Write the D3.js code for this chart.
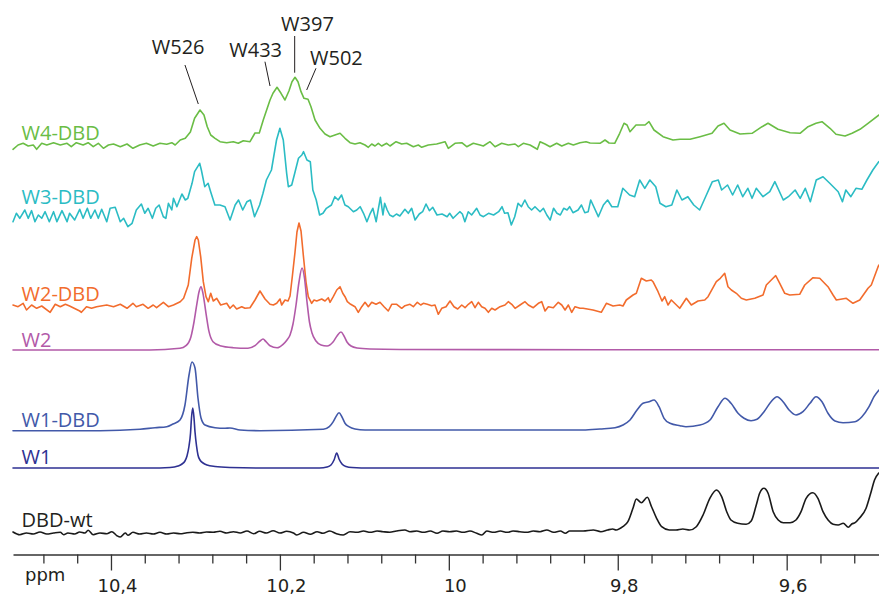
<!DOCTYPE html>
<html><head><meta charset="utf-8">
<script src="https://cdn.jsdelivr.net/npm/d3@7"></script>
<style>html,body{margin:0;padding:0;background:#fff;} svg{display:block;}</style>
</head><body><svg id="chart" width="879" height="596"></svg>
<script>
// ---------- DATA (ppm, intensity above each trace's own baseline) ----------
const ppmDomain = [10.516, 9.4907];
const majorTicks = [10.4, 10.2, 10.0, 9.8, 9.6];
const minorTicks = [10.48, 10.44, 10.36, 10.32, 10.28, 10.24, 10.16, 10.12, 10.08, 10.04,
  9.96, 9.92, 9.88, 9.84, 9.76, 9.72, 9.68, 9.64, 9.56, 9.52];
const axisTitle = "ppm";
const seriesNames = ["W4-DBD", "W3-DBD", "W2-DBD", "W2", "W1-DBD", "W1", "DBD-wt"];

const w4dbd = [[10.516,-2.3],[10.510,2],[10.504,3.7],[10.498,1],[10.492,2],[10.488,-2.3],[10.482,3.7],[10.476,2],[10.468,4.3],[10.460,2],[10.452,3.7],[10.447,0.3],[10.441,4.3],[10.433,2],[10.427,4.3],[10.421,0.3],[10.415,3.7],[10.409,-1.3],[10.403,2],[10.397,3],[10.389,0.3],[10.381,3],[10.374,-1.3],[10.366,2],[10.358,3.7],[10.350,1],[10.342,3.7],[10.334,2.7],[10.328,4.3],[10.324,2],[10.318,7],[10.312,8.7],[10.306,15],[10.301,28.7],[10.2946,37],[10.2899,32],[10.2860,20.3],[10.2819,12],[10.2768,8.7],[10.2709,5.3],[10.2630,4.3],[10.2552,5.3],[10.2493,3.7],[10.2433,6.3],[10.2354,5.3],[10.2295,14],[10.2244,14],[10.2197,27],[10.2137,42],[10.2117,47],[10.2082,53.7],[10.2034,59.7],[10.1987,53.7],[10.1940,47],[10.1892,56.3],[10.1857,65.3],[10.1821,69.7],[10.1786,65.3],[10.1750,55.3],[10.1715,48.7],[10.1667,47.7],[10.1632,40.3],[10.1584,27],[10.1525,18.7],[10.1466,13],[10.1407,10.3],[10.1348,12],[10.1288,13.7],[10.1229,8.7],[10.1170,4.3],[10.1111,3],[10.1052,4.3],[10.0992,2],[10.0953,-0.3],[10.0913,3],[10.0874,1],[10.0835,3.7],[10.0795,1],[10.0736,3.7],[10.0696,1],[10.0625,5.3],[10.0558,3],[10.0499,3.7],[10.0420,0.3],[10.0361,2],[10.0321,-0.3],[10.0243,2],[10.0144,3],[10.0045,5.3],[10.0006,-1.3],[9.9927,3.7],[9.9847,4.3],[9.9788,0.3],[9.9710,3.7],[9.9631,2],[9.9592,1],[9.9512,5.3],[9.9453,0.3],[9.9374,3.7],[9.9296,2],[9.9216,3],[9.9177,0.3],[9.9118,3.7],[9.9039,2],[9.8952,-2.3],[9.8920,5.3],[9.8861,3],[9.8802,0.3],[9.8723,3.7],[9.8663,1],[9.8585,3.7],[9.8526,2],[9.8447,4.3],[9.8376,5.3],[9.8328,4],[9.8210,3.7],[9.8151,7],[9.8103,4],[9.8036,3.7],[9.7977,13.7],[9.7926,23.7],[9.7890,22],[9.7855,15.3],[9.7784,22],[9.7677,22],[9.7630,25.3],[9.7571,17],[9.7464,10.3],[9.7346,7],[9.7263,7.7],[9.7144,7.7],[9.7026,10.3],[9.6884,13.7],[9.6813,21],[9.6742,23.7],[9.6671,17],[9.6552,13],[9.6410,13.7],[9.6292,20.3],[9.6221,23.7],[9.6103,17.7],[9.5960,14.3],[9.5842,13.7],[9.5747,20.3],[9.5653,23.7],[9.5582,25.3],[9.5487,18.7],[9.5416,12.7],[9.5309,11],[9.5226,13.7],[9.5132,17.7],[9.5037,23.7],[9.4907,32]];

const w3dbd = [[10.516,-6.7],[10.512,1.7],[10.508,-3.3],[10.502,5],[10.498,-3.3],[10.494,4.3],[10.490,-6.7],[10.486,0],[10.482,-3.3],[10.478,3.3],[10.473,-6.7],[10.468,3.3],[10.464,-6.7],[10.458,4.3],[10.452,-6.7],[10.449,1.7],[10.443,-5],[10.437,5.7],[10.433,-3.3],[10.428,6.7],[10.424,-3.3],[10.419,5],[10.415,-3.3],[10.411,5.7],[10.405,-6.7],[10.401,6.7],[10.395,7.7],[10.389,-6.7],[10.385,-3.3],[10.380,-11.7],[10.375,-8.3],[10.370,5],[10.364,11],[10.360,1.7],[10.356,6.7],[10.351,-3.3],[10.347,6.7],[10.343,10],[10.338,-1.7],[10.335,-3.3],[10.332,11.7],[10.328,5],[10.326,16.7],[10.322,8.3],[10.316,21],[10.312,15],[10.309,16.7],[10.304,31.7],[10.301,43.3],[10.295,51.7],[10.293,45],[10.289,28.3],[10.285,31.7],[10.282,23.3],[10.277,10],[10.271,10],[10.265,8.3],[10.259,-5],[10.253,10],[10.249,15],[10.244,5],[10.239,13.3],[10.235,15],[10.230,-1.7],[10.224,10],[10.220,21.7],[10.216,35],[10.210,45],[10.204,75],[10.200,86.7],[10.196,75],[10.192,41.7],[10.190,28.3],[10.186,30],[10.182,43.3],[10.178,56.7],[10.174,60],[10.172,63.3],[10.168,55],[10.164,53.3],[10.161,25],[10.157,15],[10.153,0],[10.149,1.7],[10.145,6.7],[10.139,10],[10.135,18.3],[10.131,15],[10.127,20],[10.123,10],[10.119,8.3],[10.113,3.3],[10.109,5],[10.105,8.3],[10.101,1.7],[10.097,-6.7],[10.093,1.7],[10.090,6.7],[10.086,-6.7],[10.084,3.3],[10.081,17.7],[10.078,0],[10.076,11.7],[10.073,5],[10.070,0],[10.066,-1.7],[10.062,1],[10.058,-1],[10.052,5.7],[10.048,1.7],[10.044,6.7],[10.040,-5],[10.035,1],[10.031,3.3],[10.027,11],[10.023,4.3],[10.019,7.7],[10.014,0],[10.008,1],[10.002,-1.7],[9.999,1.7],[9.995,-3.3],[9.991,0],[9.987,3.3],[9.984,1],[9.981,-6.7],[9.977,3.3],[9.973,0],[9.967,6.7],[9.963,0],[9.959,-1.7],[9.953,1.7],[9.947,0],[9.941,3.3],[9.937,8.3],[9.934,1.7],[9.930,2.3],[9.926,-10],[9.922,-1.7],[9.918,11.7],[9.914,8.3],[9.910,15],[9.906,8.3],[9.902,5],[9.898,8.3],[9.892,3.3],[9.888,6.7],[9.884,0],[9.880,-5],[9.876,6.7],[9.872,1.7],[9.868,0],[9.864,6.7],[9.860,5],[9.857,8.3],[9.853,2.3],[9.847,5],[9.843,10],[9.839,2.3],[9.835,3.3],[9.832,15],[9.823,-1.7],[9.817,10],[9.812,15],[9.807,8.3],[9.800,8.3],[9.794,26.7],[9.786,20],[9.780,18.3],[9.774,35],[9.768,26.7],[9.762,35],[9.755,28.3],[9.750,11.7],[9.743,8.3],[9.736,10],[9.730,25],[9.724,15],[9.717,18.3],[9.710,10],[9.703,5],[9.696,18.3],[9.688,33.3],[9.681,35],[9.677,25],[9.670,30],[9.664,20],[9.658,30],[9.652,18.3],[9.646,26.7],[9.641,16.7],[9.636,26.7],[9.628,18.3],[9.620,23.3],[9.614,33.3],[9.604,15],[9.598,18.3],[9.590,25],[9.584,16.7],[9.578,26.7],[9.572,13.3],[9.565,35],[9.557,38.3],[9.549,31.7],[9.539,23.3],[9.534,13.3],[9.530,25],[9.524,18.3],[9.518,26.7],[9.511,25.7],[9.505,35],[9.498,45],[9.491,53.3]];

const w2dbd = [[10.516,2],[10.510,0.3],[10.504,3.7],[10.500,-3],[10.494,2],[10.488,-1.3],[10.482,1],[10.472,-5.3],[10.466,2.7],[10.460,0.3],[10.454,2.7],[10.449,1],[10.437,-4],[10.435,-5.3],[10.429,0.3],[10.423,-1.3],[10.417,0.3],[10.405,2],[10.397,0.3],[10.389,2.7],[10.381,-1.3],[10.374,3.7],[10.370,0.3],[10.362,2.7],[10.356,-1.3],[10.350,2],[10.346,-0.7],[10.338,4.7],[10.332,0.3],[10.326,2],[10.318,5.3],[10.314,8.7],[10.3085,22],[10.3044,48.7],[10.3005,67],[10.2985,70.3],[10.2966,67],[10.2938,50.3],[10.2907,25.3],[10.2875,10.3],[10.2848,5.3],[10.2819,13.7],[10.2789,6],[10.2748,8.7],[10.2701,2],[10.2630,3.7],[10.2591,-1.3],[10.2552,2],[10.2512,-2],[10.2452,0.3],[10.2413,-1.3],[10.2354,-0.7],[10.2295,7],[10.2236,16],[10.2176,8],[10.2117,2.7],[10.2078,2],[10.2038,3.7],[10.1999,8],[10.1979,2],[10.1940,7],[10.1904,6],[10.1880,11],[10.1851,32],[10.1821,55],[10.1798,75],[10.1774,84],[10.1750,76],[10.1723,52],[10.1691,25],[10.1664,10.3],[10.1624,3.7],[10.1596,7],[10.1564,6],[10.1505,8],[10.1466,6],[10.1427,9.3],[10.1407,4.7],[10.1368,10.3],[10.1327,17],[10.1288,20.3],[10.1256,13.7],[10.1229,10.3],[10.1202,5.3],[10.1162,2.7],[10.1111,0.3],[10.1072,-5.3],[10.1031,0.3],[10.0992,4.7],[10.0953,0.3],[10.0913,4.7],[10.0862,2.7],[10.0815,4.7],[10.0767,0.3],[10.0717,-4],[10.0676,2.7],[10.0617,2.7],[10.0558,-1.3],[10.0519,1.3],[10.0460,2.7],[10.0420,0.3],[10.0373,4.7],[10.0333,2],[10.0302,3.7],[10.0255,2.7],[10.0203,1.3],[10.0164,2],[10.0125,-7.3],[10.0084,-1.3],[10.0033,0.3],[9.9986,6],[9.9939,0.3],[9.9895,-2],[9.9847,2],[9.9808,-0.7],[9.9769,2.7],[9.9729,5.3],[9.9690,-0.7],[9.9651,4.7],[9.9611,0.3],[9.9572,-1.3],[9.9532,-5.3],[9.9492,-1.3],[9.9453,-3],[9.9394,0.3],[9.9335,2],[9.9296,5.3],[9.9255,2.7],[9.9216,-1.3],[9.9157,2],[9.9098,5.3],[9.9059,2],[9.9000,-0.7],[9.8940,3.7],[9.8900,5.3],[9.8861,-4],[9.8822,0.3],[9.8763,-0.7],[9.8704,4.7],[9.8663,2],[9.8624,-3],[9.8585,2],[9.8545,-5.3],[9.8506,0.3],[9.8447,-1.3],[9.8411,-1.3],[9.8293,-3],[9.8195,-5.3],[9.8135,3.7],[9.8056,1],[9.7977,2],[9.7938,1],[9.7899,7],[9.7819,12],[9.7780,13.7],[9.7721,28.7],[9.7662,26],[9.7603,27],[9.7583,25.3],[9.7523,15.3],[9.7476,6],[9.7444,10.3],[9.7405,2],[9.7366,7],[9.7266,-1.3],[9.7188,8.7],[9.7129,2],[9.7050,6],[9.6970,7],[9.6931,10.3],[9.6833,25.3],[9.6786,28.7],[9.6734,33.7],[9.6695,20.3],[9.6655,17],[9.6596,13.7],[9.6537,8.7],[9.6478,7],[9.6378,8.7],[9.6280,12],[9.6241,22],[9.6162,28.7],[9.6130,31.3],[9.6082,23.7],[9.6023,13.7],[9.5964,12],[9.5846,12.7],[9.5786,22],[9.5688,29.3],[9.5609,28.7],[9.5511,20.3],[9.5451,12],[9.5412,7],[9.5294,8.7],[9.5215,3.7],[9.5135,7],[9.5037,18.7],[9.4998,22],[9.4918,40.3],[9.4907,42]];

const w2 = [[10.5160,0],[10.3538,0],[10.3183,1.7],[10.3112,4.3],[10.3053,13.3],[10.3017,28],[10.2982,46.7],[10.2958,58],[10.2934,63.3],[10.2911,56.7],[10.2875,36.7],[10.2839,18.3],[10.2792,8.3],[10.2709,4.3],[10.2555,2.3],[10.2378,1.7],[10.2295,4.3],[10.2236,9],[10.2200,11],[10.2165,8.3],[10.2117,4.3],[10.2034,2.3],[10.1963,5.7],[10.1916,10],[10.1880,15],[10.1845,26],[10.1809,45],[10.1774,68],[10.1738,82],[10.1709,72],[10.1679,48],[10.1650,28],[10.1620,17],[10.1573,9],[10.1513,5],[10.1442,4],[10.1371,8],[10.1324,14],[10.1277,18],[10.1241,14],[10.1206,8],[10.1158,4],[10.1087,2],[10.0933,1],[10.0578,0.5],[9.8210,0.3],[9.4907,0.3]];

const w1dbd = [[10.5160,0.3],[10.4130,0.3],[10.3656,1.7],[10.3479,3.3],[10.3340,4.3],[10.3266,7],[10.3183,11],[10.3124,26],[10.3076,56],[10.3041,69],[10.3005,63],[10.2970,33],[10.2934,13],[10.2887,6],[10.2768,3.3],[10.2650,2.7],[10.2591,3],[10.2472,1],[10.2236,0.3],[10.1486,1.7],[10.1415,4.3],[10.1368,9.3],[10.1336,14.3],[10.1300,18.3],[10.1265,14],[10.1229,7.7],[10.1182,4.3],[10.1111,2],[10.0992,1],[9.9986,1],[9.8411,1],[9.8210,2],[9.8032,3.3],[9.7938,6],[9.7855,11],[9.7772,21],[9.7701,27.7],[9.7630,29.3],[9.7571,31],[9.7511,24.3],[9.7452,12.7],[9.7381,7.7],[9.7263,5.3],[9.7192,4.3],[9.7026,6],[9.6908,11],[9.6813,24.3],[9.6730,32.7],[9.6659,27.7],[9.6576,17.7],[9.6505,12.7],[9.6422,10.3],[9.6351,11.7],[9.6268,19.3],[9.6185,29.3],[9.6114,34.3],[9.6043,29.3],[9.5972,21],[9.5890,16],[9.5807,19.3],[9.5724,27.7],[9.5653,34.3],[9.5582,29.3],[9.5511,17.7],[9.5428,10],[9.5333,8.3],[9.5192,9.3],[9.5109,14.3],[9.5025,24.3],[9.4966,34.3],[9.4907,41]];

const w1 = [[10.516,0],[10.354,0],[10.3301,0.5],[10.3206,2],[10.3159,4],[10.3124,7],[10.3100,12],[10.3076,22],[10.3058,35],[10.3047,50],[10.3032,60],[10.3017,50],[10.3005,36],[10.2987,22],[10.2970,13],[10.2946,8],[10.2910,5],[10.2863,3],[10.2768,1.5],[10.2591,0.5],[10.224,0],[10.153,0],[10.1442,1],[10.1395,3],[10.1359,8],[10.1327,15],[10.1300,9],[10.1265,4],[10.1217,1.5],[10.1146,0.5],[10.093,0],[9.4907,0]];

const dbdwt = [[10.516,1],[10.508,-1.7],[10.500,0],[10.492,-1],[10.484,1],[10.476,-1],[10.468,0],[10.460,0.7],[10.456,-1.7],[10.451,0],[10.443,-1],[10.437,1],[10.431,0],[10.427,2.7],[10.421,-1.7],[10.413,0],[10.405,-0.7],[10.399,1.3],[10.393,-2.7],[10.389,-4],[10.383,0],[10.380,-2.3],[10.374,0.7],[10.366,-1],[10.358,0],[10.350,-1],[10.342,0.7],[10.334,-1],[10.326,0],[10.318,-0.7],[10.310,0.3],[10.303,0.7],[10.295,0],[10.287,1],[10.279,0.7],[10.271,1.7],[10.263,0],[10.255,1.3],[10.247,0],[10.239,2],[10.231,-0.7],[10.224,1.7],[10.216,0],[10.208,2.3],[10.200,0],[10.192,1.7],[10.184,0],[10.180,-2],[10.172,0.7],[10.164,-1.3],[10.156,1.3],[10.149,-0.3],[10.141,2],[10.133,-0.7],[10.125,-2],[10.117,1.3],[10.109,0.7],[10.101,2],[10.093,0.7],[10.085,2],[10.078,1.3],[10.070,0.7],[10.062,2],[10.052,3],[10.046,1.3],[10.038,2],[10.030,0.7],[10.022,2],[10.014,-0.3],[10.007,2],[9.999,1.3],[9.991,2],[9.983,0.7],[9.975,2],[9.967,-0.3],[9.961,-2],[9.955,2],[9.947,0.7],[9.939,2],[9.931,0.7],[9.924,2],[9.916,1.3],[9.908,0.7],[9.900,2],[9.892,1.3],[9.884,3],[9.876,0.7],[9.868,2],[9.862,-0.3],[9.857,2],[9.849,2],[9.841,2],[9.829,3],[9.820,1.3],[9.812,3],[9.806,4],[9.802,3],[9.794,6.3],[9.788,11.3],[9.782,24.7],[9.778,34],[9.772,30.3],[9.765,35.7],[9.760,26.3],[9.754,14.7],[9.748,6.3],[9.739,3],[9.731,3],[9.723,4],[9.715,3],[9.707,6.3],[9.699,18],[9.691,34.7],[9.683,43],[9.677,36.3],[9.671,21.3],[9.666,13],[9.658,9.7],[9.648,8.7],[9.642,12],[9.636,28],[9.632,39.7],[9.627,44.7],[9.622,39.7],[9.616,21.3],[9.610,13],[9.604,10.3],[9.596,10.3],[9.589,13],[9.583,21.3],[9.577,34.7],[9.569,40.3],[9.563,34.7],[9.557,21.3],[9.551,13],[9.545,8.7],[9.539,8],[9.533,9.7],[9.527,5.7],[9.523,9],[9.519,10.3],[9.514,14.7],[9.506,24.7],[9.500,41.3],[9.496,53],[9.491,60]];

// peak annotations on the W4-DBD trace
const annotLabels = ["W526", "W433", "W397", "W502"];
const annotPeakPpm = [10.2966, 10.2117, 10.1825, 10.1683];

// ---------- LAYOUT / STYLE ----------
const svg = d3.select("#chart");
const x = d3.scaleLinear().domain(ppmDomain).range([13, 879]);
const y = d3.scaleLinear().domain([0, 500]).range([556, 56]);

const traces = [
  {data: w4dbd, color: "#6abd45", offset: 409, lift: 7.5, curve: d3.curveLinear},
  {data: w3dbd, color: "#2bbcc4", offset: 341, lift: 11, curve: d3.curveLinear},
  {data: w2dbd, color: "#f26c2d", offset: 249, lift: 6.5, curve: d3.curveLinear},
  {data: w2,    color: "#b25aa8", offset: 206, lift: 3.5, curve: d3.curveMonotoneX},
  {data: w1dbd, color: "#4259a9", offset: 125, lift: 4.5, curve: d3.curveMonotoneX},
  {data: w1,    color: "#2e3192", offset: 88,  lift: 4.5, curve: d3.curveMonotoneX},
  {data: dbdwt, color: "#1a1a1a", offset: 23,  lift: 6.5, curve: d3.curveMonotoneX}
];
const labelColors = ["#6abd45", "#2bbcc4", "#f26c2d", "#b25aa8", "#4259a9", "#2e3192", "#231f20"];

traces.forEach((t, i) => {
  const line = d3.line()
    .x(d => x(d[0]))
    .y(d => y(t.offset + d[1]))
    .curve(t.curve);
  svg.append("path")
    .datum(t.data)
    .attr("d", line)
    .attr("fill", "none")
    .attr("stroke", t.color)
    .attr("stroke-width", 1.6)
    .attr("stroke-linejoin", "round")
    .attr("stroke-linecap", "round");
  svg.append("text")
    .attr("x", 21.5)
    .attr("y", y(t.offset) - t.lift)
    .attr("font-family", "'Open Sans', 'Noto Sans', sans-serif")
    .attr("font-size", 20)
    .attr("fill", labelColors[i])
    .text(seriesNames[i]);
});

// annotations (label position & leader geometry, in ppm / intensity of W4-DBD trace)
const annotLayout = [
  {tx: 10.3205, ty: 93,    sx: 10.3124, sy: 82,   ey: 43},
  {tx: 10.2287, ty: 90.3,  sx: 10.2177, sy: 85.3, ey: 61},
  {tx: 10.1674, ty: 116.3, sx: 10.1825, sy: 111,  ey: 74.3},
  {tx: 10.1331, ty: 82,    sx: 10.1573, sy: 78.7, ey: 57}
];
const base4 = traces[0].offset;
annotLabels.forEach((lab, i) => {
  const L = annotLayout[i];
  svg.append("line")
    .attr("x1", x(L.sx)).attr("y1", y(base4 + L.sy))
    .attr("x2", x(annotPeakPpm[i])).attr("y2", y(base4 + L.ey))
    .attr("stroke", "#231f20").attr("stroke-width", 1);
  svg.append("text")
    .attr("x", x(L.tx)).attr("y", y(base4 + L.ty))
    .attr("text-anchor", "middle")
    .attr("font-family", "'Open Sans', 'Noto Sans', sans-serif")
    .attr("font-size", 20)
    .attr("fill", "#231f20")
    .text(lab);
});

// ---------- AXIS ----------
const axisY = 554.5;
const gMinor = svg.append("g").attr("transform", `translate(0,${axisY})`)
  .call(d3.axisBottom(x).tickValues(minorTicks).tickSize(9).tickSizeOuter(0).tickFormat(""));
gMinor.select(".domain").remove();
gMinor.selectAll(".tick line").attr("stroke", "#333").attr("stroke-width", 1.3);

const gMajor = svg.append("g").attr("transform", `translate(0,${axisY})`)
  .call(d3.axisBottom(x).tickValues(majorTicks).tickSize(16).tickSizeOuter(0)
    .tickFormat(d => String(d).replace(".", ",")));
gMajor.select(".domain").attr("stroke", "#333").attr("stroke-width", 1.6);
gMajor.selectAll(".tick line").attr("stroke", "#333").attr("stroke-width", 1.3);
gMajor.selectAll(".tick text")
  .attr("y", 37).attr("dy", 0).attr("dx", 6)
  .attr("font-family", "'DejaVu Sans', sans-serif")
  .attr("font-size", 18)
  .attr("fill", "#231f20");

svg.append("text")
  .attr("x", 25).attr("y", 581)
  .attr("font-family", "'DejaVu Sans', sans-serif")
  .attr("font-size", 18)
  .attr("fill", "#231f20")
  .text(axisTitle);
</script>
</body></html>
